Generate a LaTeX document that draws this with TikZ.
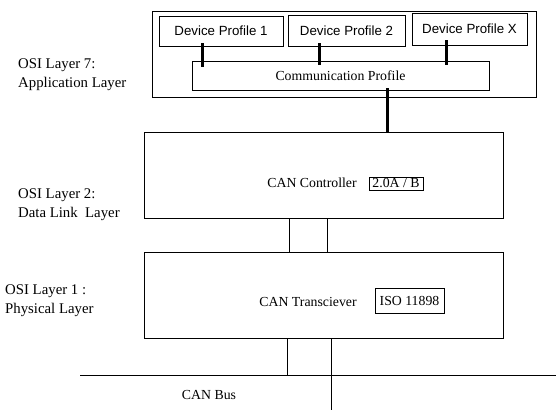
\documentclass[tikz,border=0pt]{standalone}
\usepackage{fontspec}
\setmainfont{Liberation Serif}
\newfontfamily\arialfont{Liberation Sans}
\begin{document}
\begin{tikzpicture}[x=1bp,y=-1bp,
  box/.style={draw=black, line width=0.9bp, anchor=north west, inner sep=0pt, outer sep=0pt},
  devbox/.style={box, font=\arialfont\fontsize{13.3bp}{15bp}\selectfont},
  txt/.style={inner sep=0pt, font=\fontsize{13.8bp}{16bp}\selectfont},
  lbl/.style={inner sep=0pt, anchor=west, align=left, font=\fontsize{14.8bp}{19bp}\selectfont},
  tagbox/.style={draw=black, line width=0.9bp, inner sep=1.5bp, font=\fontsize{13.8bp}{16bp}\selectfont},
  thick link/.style={line width=3bp},
  thin link/.style={line width=0.9bp}]
\useasboundingbox (0,0) rectangle (556,410);
\fill[white] (0,0) rectangle (556,410);

% Application layer
\node[box, minimum width=384bp, minimum height=86bp] (app) at (152,11) {};
\node[devbox, minimum width=124bp, minimum height=30bp] (dp1) at (159,16) {Device Profile 1};
\node[devbox, minimum width=117bp, minimum height=31bp] (dp2) at (288,15) {Device Profile 2};
\node[devbox, minimum width=115bp, minimum height=32bp] (dpx) at (412,13) {Device Profile X};
\node[box, minimum width=297bp, minimum height=29bp, font=\fontsize{13.8bp}{16bp}\selectfont] (comm) at (192,61) {Communication Profile};

\coordinate (c1a) at (202,43); \coordinate (c1b) at (202,67);
\coordinate (c2a) at (319,43); \coordinate (c2b) at (319,65);
\coordinate (c3a) at (446,40); \coordinate (c3b) at (446,65);
\draw[thick link] (c1a) -- (c1b);
\draw[thick link] (c2a) -- (c2b);
\draw[thick link] (c3a) -- (c3b);

% Controller
\node[box, minimum width=359bp, minimum height=86bp] (ctrl) at (144,132) {};
\node[txt] (ctrltxt) at (312,183) {CAN Controller};
\node[tagbox, minimum width=54bp, minimum height=13bp] (ctag) at (396,183.5) {2.0A / B};
\coordinate (cc) at (387,88);
\draw[thick link] (cc) -- (cc |- ctrl.north);

% Transceiver
\node[box, minimum width=359bp, minimum height=86bp] (trx) at (144,252) {};
\node[txt] (trxtxt) at (308,302) {CAN Transciever};
\node[tagbox, minimum width=69bp, minimum height=25bp] (ttag) at (409.5,300.5) {ISO 11898};

\draw[thin link] (289,218) -- (289,252);
\draw[thin link] (327,218) -- (327,252);

% Bus
\coordinate (busl) at (80,375);
\coordinate (busr) at (556,375);
\draw[thin link] (busl) -- (busr);
\coordinate (b1) at (287,375);
\coordinate (b2) at (331,410);
\draw[thin link] (b1 |- trx.south) -- (b1);
\draw[thin link] (b2 |- trx.south) -- (b2);
\node[txt] (bus) at (209,395) {CAN Bus};

% Left labels
\node[lbl] (l7) at (18,75) {OSI Layer 7:\\Application Layer};
\node[lbl] (l2) at (18,205) {OSI Layer 2:\\Data Link\ \ Layer};
\node[lbl] (l1) at (5,301) {OSI Layer 1 :\\Physical Layer};
\end{tikzpicture}
\end{document}
